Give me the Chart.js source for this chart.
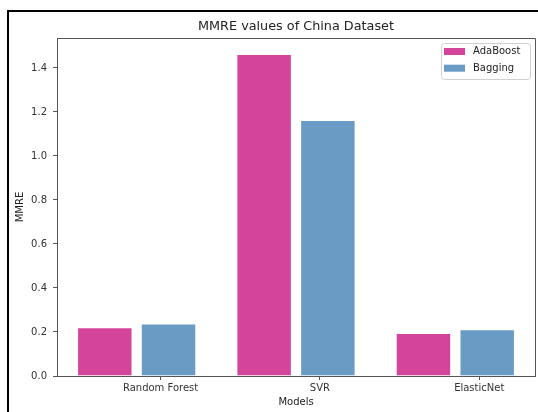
<!DOCTYPE html>
<html>
<head>
<meta charset="utf-8">
<script src="https://cdn.jsdelivr.net/npm/chart.js@4"></script>
<style>
  html, body { margin: 0; padding: 0; background: #fff; }
  canvas { display: block; }
</style>
</head>
<body>
<canvas id="c" width="538" height="412"></canvas>
<script>
// MMRE per model, boosted vs. bagged ensembles
const models = ['Random Forest', 'SVR', 'ElasticNet'];
const adaBoostMMRE = [0.222, 1.463, 0.195];
const baggingMMRE = [0.239, 1.163, 0.213];
const yTickValues = [0, 0.2, 0.4, 0.6, 0.8, 1.0, 1.2, 1.4];
const chartTitle = 'MMRE values of China Dataset';

const FONT = 'DejaVu Sans';
const SPINE = '#555';
Chart.defaults.font.family = FONT;
Chart.defaults.color = '#333';

// white background, outer frame, title centred over the plot,
// top/right spines and a boxed legend
const decor = {
  id: 'decor',
  beforeDraw(chart) {
    const { ctx, width, height } = chart;
    ctx.save();
    ctx.fillStyle = '#fff';
    ctx.fillRect(0, 0, width, height);
    ctx.restore();
  },
  afterDraw(chart) {
    const { ctx, chartArea: a } = chart;
    ctx.save();
    ctx.strokeStyle = SPINE;
    ctx.lineWidth = 1;
    ctx.beginPath();
    ctx.moveTo(a.left, a.top + 0.5);
    ctx.lineTo(a.right + 0.5, a.top + 0.5);
    ctx.lineTo(a.right + 0.5, a.bottom);
    ctx.stroke();

    ctx.strokeStyle = '#000';
    ctx.lineWidth = 2;
    ctx.beginPath();
    ctx.moveTo(8, chart.height);
    ctx.lineTo(8, 11);
    ctx.lineTo(chart.width, 11);
    ctx.stroke();

    ctx.fillStyle = '#222';
    ctx.font = '12.8px "' + FONT + '"';
    ctx.textAlign = 'center';
    ctx.textBaseline = 'middle';
    ctx.fillText(chartTitle, (a.left + a.right) / 2, 27);

    const lw = 89, lh = 36;
    const lx = a.right - 5 - lw, ly = a.top + 5;
    ctx.beginPath();
    ctx.roundRect(lx + 0.5, ly + 0.5, lw, lh, 3);
    ctx.fillStyle = 'rgba(255,255,255,0.85)';
    ctx.fill();
    ctx.strokeStyle = '#d0d0d0';
    ctx.lineWidth = 1;
    ctx.stroke();
    ctx.font = '10px "' + FONT + '"';
    ctx.textBaseline = 'middle';
    ctx.textAlign = 'left';
    chart.data.datasets.forEach((ds, i) => {
      const cy = ly + 8.5 + i * 16.7;
      ctx.fillStyle = ds.backgroundColor;
      ctx.fillRect(lx + 3, cy - 3.5, 21, 7);
      ctx.fillStyle = '#222';
      ctx.fillText(ds.label, lx + 32, cy);
    });
    ctx.restore();
  }
};

new Chart(document.getElementById('c'), {
  type: 'bar',
  data: {
    labels: models,
    datasets: [
      { label: 'AdaBoost', data: adaBoostMMRE, backgroundColor: '#d4449a',
        borderColor: 'rgba(255,255,255,0.5)', borderWidth: 1, xAxisID: 'x', yAxisID: 'y' },
      { label: 'Bagging', data: baggingMMRE, backgroundColor: '#6a9bc4',
        borderColor: 'rgba(255,255,255,0.5)', borderWidth: 1, xAxisID: 'x', yAxisID: 'y' }
    ]
  },
  options: {
    responsive: false,
    animation: false,
    layout: { padding: { left: 0, right: 3, top: 38, bottom: 0 } },
    datasets: { bar: { categoryPercentage: 0.8, barPercentage: 0.87 } },
    plugins: {
      legend: { display: false },
      tooltip: { enabled: false },
      title: { display: false }
    },
    scales: {
      x: { type: 'category', display: false, offset: true },
      // visible model axis, its ticks sit a little right of each bar pair
      xt: {
        type: 'linear',
        axis: 'x',
        position: 'bottom',
        offset: false,
        min: -0.65,
        max: 2.35,
        afterBuildTicks(s) { s.ticks = models.map((_, i) => ({ value: i })); },
        ticks: {
          callback: (v) => models[v],
          autoSkip: false,
          maxRotation: 0,
          padding: 2,
          color: '#333',
          font: { family: FONT, size: 10 }
        },
        grid: { offset: false, drawOnChartArea: false, tickLength: 4, color: SPINE },
        border: { color: SPINE },
        title: {
          display: true,
          text: 'Models',
          color: '#222',
          font: { family: FONT, size: 10 },
          padding: { top: 0, bottom: 4 }
        },
        afterFit(s) { s.height = 36; }
      },
      y: {
        min: 0,
        max: 1.536,
        afterBuildTicks(s) { s.ticks = yTickValues.map(v => ({ value: v })); },
        ticks: {
          callback: (v) => v.toFixed(1),
          padding: 6,
          color: '#333',
          font: { family: FONT, size: 10 }
        },
        grid: { drawOnChartArea: false, tickLength: 4, color: SPINE },
        border: { color: SPINE },
        title: {
          display: true,
          text: 'MMRE',
          color: '#222',
          font: { family: FONT, size: 10 },
          padding: { top: 14, bottom: 0 }
        },
        afterFit(s) { s.width = 57; }
      }
    }
  },
  plugins: [decor]
});
</script>
</body>
</html>
